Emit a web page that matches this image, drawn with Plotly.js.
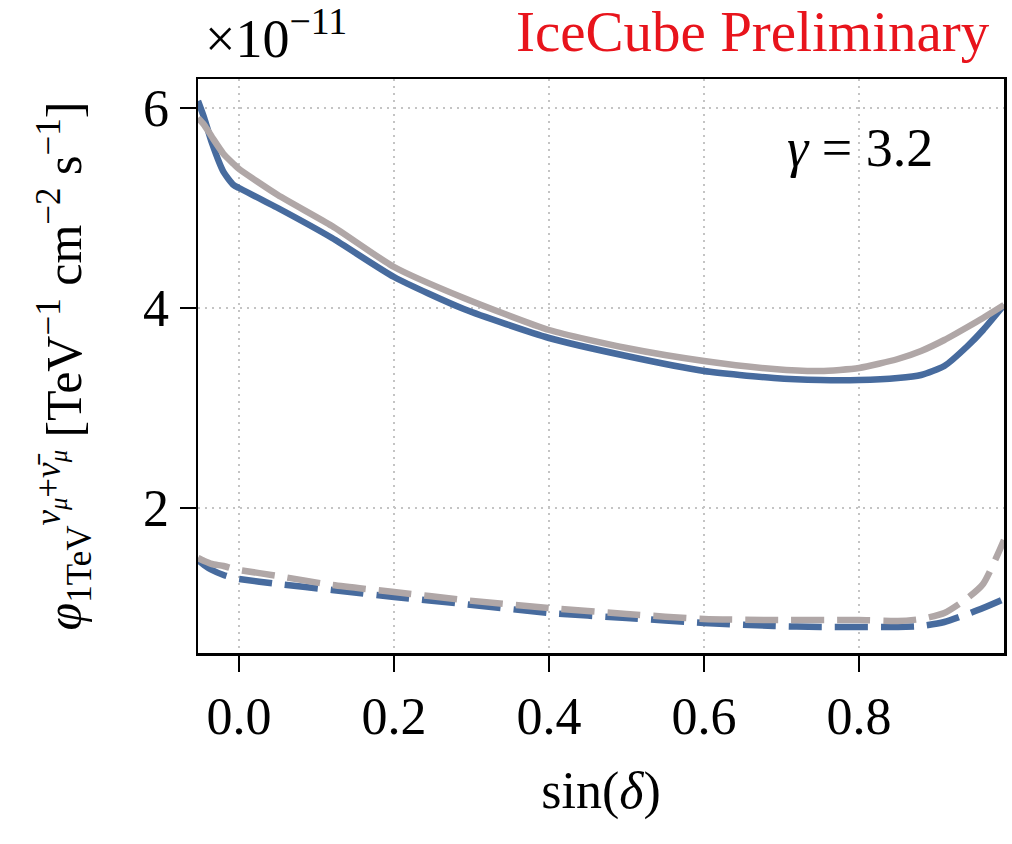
<!DOCTYPE html>
<html>
<head>
<meta charset="utf-8">
<script src="https://cdn.plot.ly/plotly-3.0.1.min.js"></script>
<style>html,body{margin:0;padding:0;background:#fff;}#chart{width:1012px;height:844px;}</style>
</head>
<body>
<div id="chart"></div>
<script>
// sin(declination) sample points
const sinDec = [-0.053, -0.045, -0.035, -0.02, -0.007, 0.0, 0.05, 0.12, 0.2, 0.29, 0.4, 0.5, 0.6, 0.69, 0.75, 0.8, 0.85, 0.88, 0.91, 0.94, 0.96, 0.987];
// flux values in units of 1e-11 TeV^-1 cm^-2 s^-1
const blueSolid = [6.07, 5.90, 5.65, 5.36, 5.23, 5.20, 5.00, 4.70, 4.31, 3.99, 3.70, 3.52, 3.37, 3.30, 3.28, 3.28, 3.30, 3.33, 3.42, 3.62, 3.78, 4.03];
const graySolid = [5.90, 5.83, 5.71, 5.54, 5.44, 5.39, 5.13, 4.82, 4.41, 4.10, 3.78, 3.60, 3.47, 3.39, 3.37, 3.40, 3.49, 3.57, 3.68, 3.81, 3.90, 4.03];
const blueDash  = [1.48, 1.43, 1.38, 1.33, 1.30, 1.29, 1.24, 1.18, 1.11, 1.04, 0.95, 0.90, 0.85, 0.82, 0.81, 0.81, 0.81, 0.82, 0.86, 0.94, 1.00, 1.09];
const grayDash  = [1.50, 1.47, 1.44, 1.42, 1.39, 1.38, 1.32, 1.23, 1.16, 1.08, 1.00, 0.94, 0.89, 0.88, 0.88, 0.88, 0.87, 0.89, 0.95, 1.10, 1.24, 1.68];
const xTicks = [0.0, 0.2, 0.4, 0.6, 0.8];
const xTickText = ["0.0", "0.2", "0.4", "0.6", "0.8"];
const yTicks = [2, 4, 6];
const yTickText = ["2", "4", "6"];

const BLUE = "#476b9e";
const GRAY = "#b0a7a7";
const FONT = "Liberation Serif, DejaVu Serif, serif";

const mk = (y, color, dash) => ({
  x: sinDec, y: y, type: "scatter", mode: "lines",
  line: {color: color, width: 6.5, dash: dash, shape: "spline", smoothing: 0.6},
  hoverinfo: "skip", showlegend: false
});

const data = [
  mk(blueSolid, BLUE, "solid"),
  mk(graySolid, GRAY, "solid"),
  mk(blueDash, BLUE, "33px,13px"),
  mk(grayDash, GRAY, "33px,13px")
];

const layout = {
  width: 1012, height: 844,
  margin: {l: 198, r: 8, t: 79, b: 191},
  paper_bgcolor: "#ffffff", plot_bgcolor: "#ffffff",
  font: {family: FONT, color: "#000", size: 50},
  xaxis: {
    range: [-0.053, 0.987],
    tickvals: xTicks, ticktext: xTickText,
    ticks: "outside", ticklen: 16, tickwidth: 2.5, tickcolor: "#000",
    showline: true, linecolor: "#000", linewidth: 2.5, mirror: true,
    showgrid: true, gridcolor: "#c4c4c4", gridwidth: 2, griddash: "2px,5px",
    zeroline: false,
    tickfont: {family: FONT, size: 52},
    title: {text: "sin(<i>δ</i>)", font: {family: FONT, size: 52}, standoff: 28}
  },
  yaxis: {
    range: [0.55, 6.29],
    tickvals: yTicks, ticktext: yTickText,
    ticks: "outside", ticklen: 16, tickwidth: 2.5, tickcolor: "#000",
    showline: true, linecolor: "#000", linewidth: 2.5, mirror: true,
    showgrid: true, gridcolor: "#c4c4c4", gridwidth: 2, griddash: "2px,5px",
    zeroline: false,
    tickfont: {family: FONT, size: 52},
    title: {text: "<i>φ</i><sub>1TeV</sub><sup><i>ν</i><sub><i>μ</i></sub>+<i>ν̄</i><sub><i>μ</i></sub></sup> [TeV<sup>−1</sup> cm<sup>−2</sup> s<sup>−1</sup>]",
            font: {family: FONT, size: 50}, standoff: 46}
  },
  annotations: [
    {xref: "paper", yref: "paper", x: 0.006, y: 1, yshift: 8, xanchor: "left", yanchor: "bottom",
     text: "×10<sup>−11</sup>", showarrow: false, font: {family: FONT, size: 54, color: "#000"}},
    {xref: "paper", yref: "paper", x: 0.985, y: 1, yshift: 14, xanchor: "right", yanchor: "bottom",
     text: "IceCube Preliminary", showarrow: false, font: {family: FONT, size: 57, color: "#e8141c"}},
    {xref: "paper", yref: "paper", x: 0.915, y: 0.935, xanchor: "right", yanchor: "top",
     text: "<i>γ</i> = 3.2", showarrow: false, font: {family: FONT, size: 54, color: "#000"}}
  ]
};

Plotly.newPlot("chart", data, layout, {staticPlot: true, displayModeBar: false});
</script>
</body>
</html>
